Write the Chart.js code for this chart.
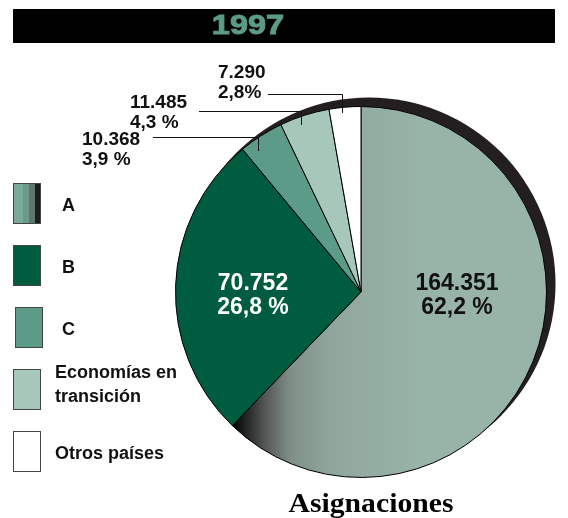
<!DOCTYPE html>
<html lang="es">
<head>
  <meta charset="UTF-8">
  <title>Asignaciones 1997</title>
  <script src="https://cdn.jsdelivr.net/npm/chart.js"></script>
  <style>
    body { margin: 0; background: #fff; }
    #wrap { width: 568px; height: 518px; }
  </style>
</head>
<body>
  <div id="wrap"><canvas id="asigChart" width="568" height="518"></canvas></div>
  <script>
    const chartYear = '1997';
    const categories = ['A', 'B', 'C', 'Economías en\ntransición', 'Otros países'];
    const amounts = [164351, 70752, 10368, 11485, 7290];
    const amountLabels = ['164.351', '70.752', '10.368', '11.485', '7.290'];
    const pctLabels = ['62,2 %', '26,8 %', '3,9 %', '4,3 %', '2,8%'];
    const sliceColors = [null, '#005c3f', '#5c9b87', '#a7c7bb', '#ffffff'];

    // etiquetas dentro de la torta (relativas al centro)
    const insideLabels = [
      { idx: 0, dx: 96, dy: -8, color: '#111' },
      { idx: 1, dx: -108, dy: -8, color: '#fff' }
    ];
    // etiquetas externas con línea guía
    const outsideLabels = [
      { idx: 4, x: 218, y: 73, lineY: 94, lineX0: 268, tick: 19 },
      { idx: 3, x: 130, y: 103, lineY: 111, lineX0: 199, tick: 14 },
      { idx: 2, x: 82, y: 140, lineY: 137, lineX0: 153, tick: 14 }
    ];

    function gradA(chart) {
      const ctx = chart.ctx;
      const g = ctx.createLinearGradient(232, 0, 420, 0);
      g.addColorStop(0, '#000000');
      g.addColorStop(0.18, '#555958');
      g.addColorStop(0.31, '#7f8f87');
      g.addColorStop(0.52, '#90a69c');
      g.addColorStop(1, '#98b3a8');
      return g;
    }

    const decoPlugin = {
      id: 'deco',
      beforeDatasetsDraw(chart) {
        const ctx = chart.ctx;
        const arc = chart.getDatasetMeta(0).data[0];
        ctx.save();
        // sombra
        ctx.fillStyle = '#231f20';
        ctx.beginPath();
        ctx.arc(arc.x + 8, arc.y - 8, arc.outerRadius + 1, 0, Math.PI * 2);
        ctx.fill();
        // barra de título
        ctx.fillStyle = '#000';
        ctx.fillRect(13, 9, 542, 34);
        ctx.translate(248, 26);
        ctx.scale(1.16, 1);
        ctx.fillStyle = '#5c9b87';
        ctx.strokeStyle = '#5c9b87';
        ctx.lineWidth = 1;
        ctx.font = 'bold 28px "Liberation Sans", Arial, sans-serif';
        ctx.textAlign = 'center';
        ctx.textBaseline = 'middle';
        ctx.fillText(chartYear, 0, 0);
        ctx.strokeText(chartYear, 0, 0);
        ctx.restore();
      },
      afterDatasetsDraw(chart) {
        const ctx = chart.ctx;
        const meta = chart.getDatasetMeta(0);
        const cx = meta.data[0].x, cy = meta.data[0].y, r = meta.data[0].outerRadius;
        ctx.save();
        ctx.textBaseline = 'middle';

        // dentro
        ctx.font = 'bold 23px "Liberation Sans", Arial, sans-serif';
        ctx.textAlign = 'center';
        insideLabels.forEach(l => {
          ctx.fillStyle = l.color;
          ctx.fillText(amountLabels[l.idx], cx + l.dx, cy + l.dy);
          ctx.fillText(pctLabels[l.idx], cx + l.dx, cy + l.dy + 24);
        });

        // fuera
        ctx.font = 'bold 19px "Liberation Sans", Arial, sans-serif';
        ctx.textAlign = 'left';
        ctx.fillStyle = '#111';
        ctx.strokeStyle = '#111';
        ctx.lineWidth = 1;
        outsideLabels.forEach(l => {
          ctx.fillText(amountLabels[l.idx], l.x, l.y);
          ctx.fillText(pctLabels[l.idx], l.x, l.y + 20);
          const a = meta.data[l.idx];
          const mid = (a.startAngle + a.endAngle) / 2;
          const tx = Math.round(cx + Math.cos(mid) * r) - 2.5;
          ctx.beginPath();
          ctx.moveTo(l.lineX0, l.lineY + 0.5);
          ctx.lineTo(tx, l.lineY + 0.5);
          ctx.lineTo(tx, l.lineY + l.tick);
          ctx.stroke();
        });

        // leyenda
        ctx.font = 'bold 18px "Liberation Sans", Arial, sans-serif';
        categories.forEach((name, i) => {
          const top = 183 + i * 62;
          const sx = 13 + (i === 2 ? 2 : 0);
          if (i === 0) {
            const stripes = ['#7aab99', '#6d998a', '#5d776d', '#1c1c1c'];
            const ws = [10, 6, 6, 6];
            let x = sx;
            stripes.forEach((c, k) => {
              ctx.fillStyle = c;
              ctx.fillRect(x, top, ws[k], 40);
              x += ws[k];
            });
          } else {
            ctx.fillStyle = sliceColors[i];
            ctx.fillRect(sx, top, 27, 40);
          }
          ctx.strokeStyle = '#444';
          ctx.strokeRect(sx + 0.5, top + 0.5, 27, 40);
          ctx.fillStyle = '#111';
          const lines = name.split('\n');
          const tx = lines[0].length === 1 ? 62 : 55;
          if (lines.length === 1) {
            ctx.fillText(lines[0], tx, top + 23);
          } else {
            ctx.fillText(lines[0], tx, top + 4);
            ctx.fillText(lines[1], tx, top + 28);
          }
        });

        // pie de gráfico
        ctx.translate(371, 512);
        ctx.scale(1.06, 1);
        ctx.font = 'bold 28px "Liberation Serif", "Times New Roman", serif';
        ctx.textAlign = 'center';
        ctx.textBaseline = 'alphabetic';
        ctx.fillStyle = '#000';
        ctx.fillText('Asignaciones', 0, 0);
        ctx.restore();
      }
    };

    const ctx = document.getElementById('asigChart').getContext('2d');
    const asigChart = new Chart(ctx, {
      type: 'pie',
      data: {
        labels: categories,
        datasets: [{
          data: amounts,
          backgroundColor: c => c.dataIndex === 0 ? gradA(c.chart) : sliceColors[c.dataIndex],
          borderColor: '#000',
          borderWidth: 1,
          hoverOffset: 0
        }]
      },
      options: {
        responsive: false,
        animation: false,
        layout: { padding: { left: 175, right: 21, top: 106, bottom: 40 } },
        plugins: {
          legend: { display: false },
          tooltip: { enabled: false }
        }
      },
      plugins: [decoPlugin]
    });
  </script>
</body>
</html>
